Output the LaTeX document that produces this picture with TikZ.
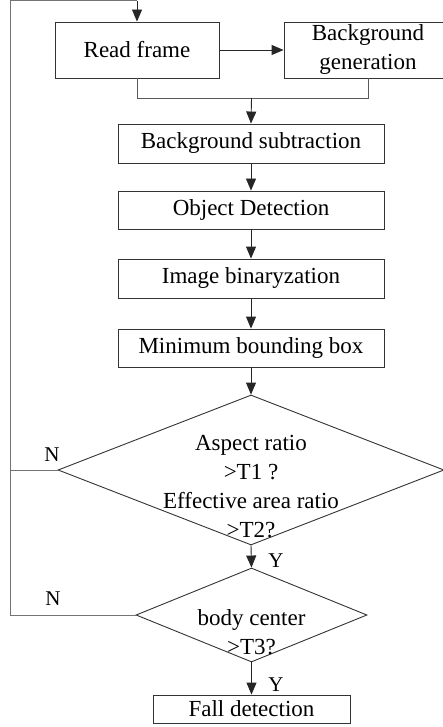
\documentclass[tikz,border=0pt]{standalone}
\usepackage{fontspec}
\setmainfont{Liberation Serif}
\usetikzlibrary{arrows.meta,shapes.geometric}

\tikzset{
  every node/.style={font=\fontsize{23}{29}\selectfont},
  stepbox/.style={draw=black!80, line width=0.9pt, rectangle, inner sep=0pt, align=center},
  decision/.style={draw=black!80, line width=0.9pt, diamond, inner sep=0pt},
  flow/.style={draw=black!85, line width=0.9pt, -{Triangle[length=12pt,width=10pt]}},
  back/.style={draw=black!55, line width=1pt},
  mergeline/.style={draw=black!65, line width=0.9pt},
  tag/.style={font=\fontsize{21}{24}\selectfont, inner sep=0pt},
}

\begin{document}
\begin{tikzpicture}[x=1pt,y=-1pt]
  \useasboundingbox (0,0) rectangle (443,727);

  % process boxes
  \node[stepbox, minimum width=164pt, minimum height=56pt] (rf) at (137,50) {Read frame};
  \node[stepbox, minimum width=168pt, minimum height=56pt] (bg) at (368,50) {Background\\generation};
  \node[stepbox, minimum width=266pt, minimum height=39pt] (bs) at (251,143.5) {Background subtraction};
  \node[stepbox, minimum width=266pt, minimum height=38pt] (od) at (251,210) {Object Detection};
  \node[stepbox, minimum width=266pt, minimum height=39pt] (ib) at (251,278.5) {Image binaryzation};
  \node[stepbox, minimum width=266pt, minimum height=38pt] (mb) at (251,348) {Minimum bounding box};

  % decisions
  \node[decision, minimum width=386pt, minimum height=150pt] (d1) at (251,470) {};
  \node[font=\fontsize{23}{29}\selectfont, align=center, inner sep=0pt] (d1t) at (251,487)
    {Aspect ratio\\ \textgreater T1 ?\\Effective area ratio\\ \textgreater T2?};
  \node[decision, minimum width=231pt, minimum height=94pt] (d2) at (251.5,615) {};
  \node[font=\fontsize{23}{29}\selectfont, align=center, inner sep=0pt] (d2t) at (251.5,632)
    {body center\\ \textgreater T3?};

  \node[stepbox, minimum width=197pt, minimum height=28pt] (fd) at (251.5,709) {Fall detection};

  % loop-back and merge points
  \coordinate (top) at (10,0.7);
  \coordinate (topr) at (137,0.7);
  \coordinate (lb) at (10,615);
  \coordinate (la) at (10,470);
  \coordinate (merge) at (251.5,98);

  \draw[back] (d2.west) -- (lb) -- (top) -- (topr);
  \draw[back] (d1.west) -- (la);
  \draw[flow] (topr) -- (rf.north);
  \draw[flow] (rf.east) -- (bg.west);
  \draw[mergeline] (rf.south) -- (rf.south |- merge) -- (bg.south |- merge) -- (bg.south);
  \draw[flow] (merge) -- (bs.north);
  \draw[flow] (bs.south) -- (od.north);
  \draw[flow] (od.south) -- (ib.north);
  \draw[flow] (ib.south) -- (mb.north);
  \draw[flow] (mb.south) -- (d1.north);
  \draw[flow] (d1.south) -- (d2.north);
  \draw[flow] (d2.south) -- (fd.north);

  % branch labels
  \node[tag] (n1) at (52,455) {N};
  \node[tag] (n2) at (53,599) {N};
  \node[tag] (y1) at (276,561) {Y};
  \node[tag] (y2) at (276,685) {Y};
\end{tikzpicture}
\end{document}
